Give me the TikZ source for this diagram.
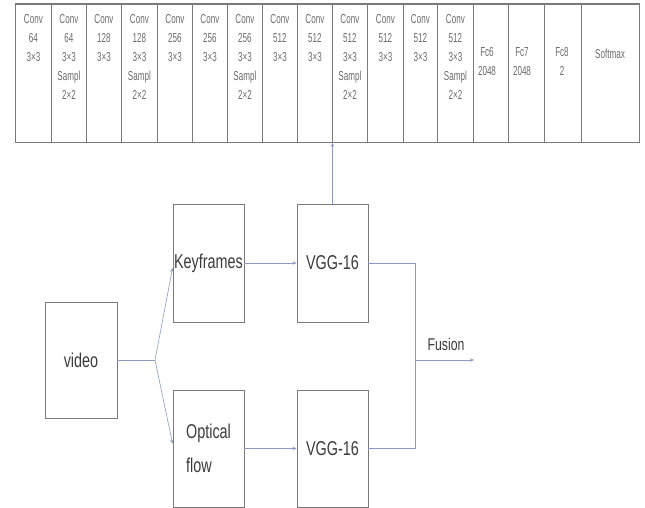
\documentclass[tikz,border=0pt]{standalone}
\usepackage{fontspec}
\setmainfont{Liberation Sans}
\newfontfamily\smallf{Liberation Sans}[FakeStretch=0.62]
\newfontfamily\bigf{Liberation Sans}[FakeStretch=0.72]
\usetikzlibrary{arrows.meta}
\definecolor{boxgray}{HTML}{7A7A7A}
\definecolor{conn}{HTML}{8C9AC4}
\definecolor{txt}{HTML}{3A3A3A}
\definecolor{stxt}{HTML}{6A6A6A}
\begin{document}
\begin{tikzpicture}[x=1pt,y=-1pt,
  colbox/.style={draw=boxgray, line width=0.8pt, rectangle, inner sep=0pt, anchor=north west},
  ctext/.style={font=\smallf\fontsize{13}{19}\selectfont, text=stxt, align=center, anchor=north, inner sep=0pt},
  blk/.style={draw=boxgray, line width=0.9pt, rectangle, inner sep=0pt, font=\bigf\fontsize{20}{34}\selectfont, text=txt, align=center},
  cn/.style={draw=conn, line width=0.6pt},
  arr/.style={cn, -{Stealth[length=4pt,width=3.5pt]}}
]
\useasboundingbox (0,0) rectangle (645,508);
% top strip columns
\foreach \i/\a/\b in {1/15/51,2/51/86,3/86/121,4/121/157,5/157/192,6/192/227,7/227/262,8/262/297,9/297/332,10/332/367,11/367/403,12/403/437,13/437/473,14/473/508,15/508/544,16/544/581,17/581/639}{
  \pgfmathsetmacro{\w}{\b-\a}
  \node[colbox, minimum width=\w pt, minimum height=138pt] (c\i) at (\a,4) {};
}
\draw[boxgray, line width=1.3pt] (c1.north west) -- (c17.north east);
% column texts
\node[ctext] (t1) at (c1.north) [yshift=-10pt] {Conv\\64\\3×3};
\node[ctext] (t2) at (c2.north) [yshift=-10pt] {Conv\\64\\3×3\\Sampl\\2×2};
\node[ctext] (t3) at (c3.north) [yshift=-10pt] {Conv\\128\\3×3};
\node[ctext] (t4) at (c4.north) [yshift=-10pt] {Conv\\128\\3×3\\Sampl\\2×2};
\node[ctext] (t5) at (c5.north) [yshift=-10pt] {Conv\\256\\3×3};
\node[ctext] (t6) at (c6.north) [yshift=-10pt] {Conv\\256\\3×3};
\node[ctext] (t7) at (c7.north) [yshift=-10pt] {Conv\\256\\3×3\\Sampl\\2×2};
\node[ctext] (t8) at (c8.north) [yshift=-10pt] {Conv\\512\\3×3};
\node[ctext] (t9) at (c9.north) [yshift=-10pt] {Conv\\512\\3×3};
\node[ctext] (t10) at (c10.north) [yshift=-10pt] {Conv\\512\\3×3\\Sampl\\2×2};
\node[ctext] (t11) at (c11.north) [yshift=-10pt] {Conv\\512\\3×3};
\node[ctext] (t12) at (c12.north) [yshift=-10pt] {Conv\\512\\3×3};
\node[ctext] (t13) at (c13.north) [yshift=-10pt] {Conv\\512\\3×3\\Sampl\\2×2};
\node[ctext] (t14) at (487,47) {Fc6\\2048};
\node[ctext] (t15) at (522,47) {Fc7\\2048};
\node[ctext] (t16) at (562,47) {Fc8\\2};
\node[ctext] (t17) at (610,49) {Softmax};
% lower blocks
\node[blk, minimum width=72pt, minimum height=116pt] (video) at (81,360) {video};
\node[blk, minimum width=71pt, minimum height=118pt] (kf) at (208.5,263) {Keyframes};
\node[blk, minimum width=71pt, minimum height=117pt, align=left] (of) at (208.5,448.5) {Optical\\flow};
\node[blk, minimum width=71pt, minimum height=118pt] (vgg1) at (332.5,263) {VGG-16};
\node[blk, minimum width=71pt, minimum height=117pt] (vgg2) at (332.5,448.5) {VGG-16};
% connectors
\coordinate (split) at (155,360);
\draw[cn] (video.east) -- (split);
\draw[arr] (split) -- ([yshift=-5pt]kf.west);
\draw[arr] (split) -- ([yshift=5pt]of.west);
\draw[arr] (kf.east) -- (vgg1.west);
\draw[arr] (of.east) -- (vgg2.west);
\draw[arr] (vgg1.north) -- (vgg1.north |- c9.south);
\coordinate (ftop) at (415,263);
\coordinate (fbot) at (415,448.5);
\coordinate (fmid) at (415,360);
\coordinate (fend) at (474,360);
\draw[cn] (vgg1.east) -- (ftop) -- (fbot) -- (vgg2.east);
\draw[arr] (fmid) -- (fend);
\node[font=\bigf\fontsize{17}{20}\selectfont, text=txt, inner sep=0pt] (fusion) at (446,344) {Fusion};
\end{tikzpicture}
\end{document}
